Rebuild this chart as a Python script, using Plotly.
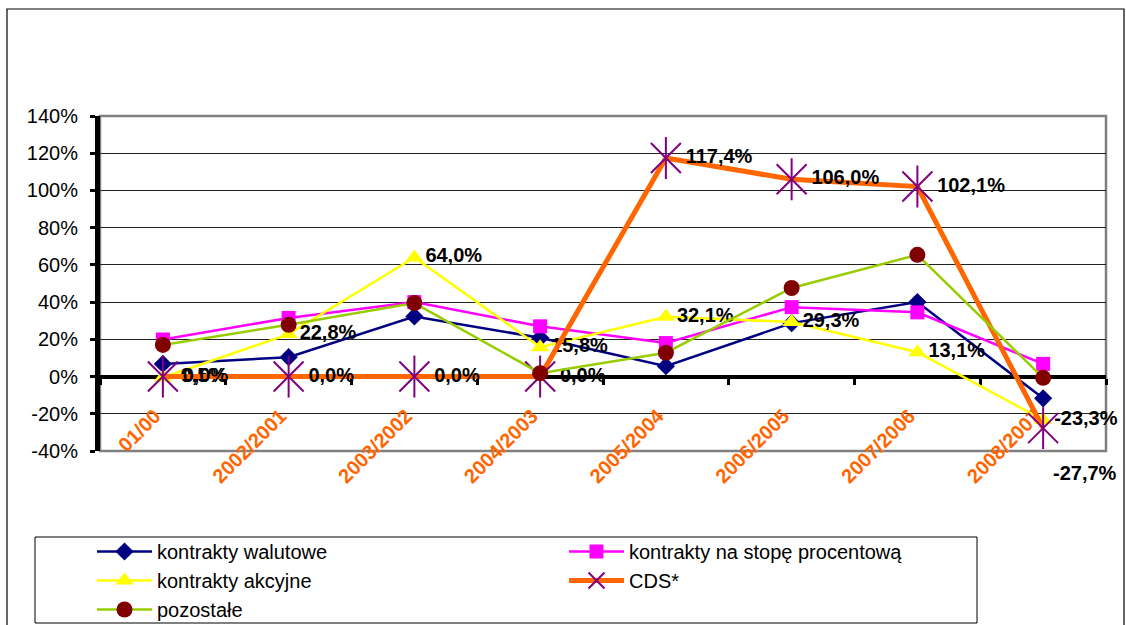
import plotly.graph_objects as go

# Year-on-year change of derivative contracts, by contract type (%)
categories = ["01/00", "2002/2001", "2003/2002", "2004/2003",
              "2005/2004", "2006/2005", "2007/2006", "2008/2007"]

walutowe = [6.8, 10.4, 32.3, 20.8, 5.6, 28.7, 40.0, -11.7]
stopa_procentowa = [19.9, 31.5, 40.0, 27.0, 18.0, 37.3, 34.5, 6.8]
akcyjne = [-0.5, 22.8, 64.0, 15.8, 32.1, 29.3, 13.1, -23.3]
cds = [0.0, 0.0, 0.0, 0.0, 117.4, 106.0, 102.1, -27.7]
pozostale = [17.0, 27.8, 39.5, 1.8, 12.8, 47.6, 65.4, -0.7]

y_ticks = [-40, -20, 0, 20, 40, 60, 80, 100, 120, 140]
y_tick_labels = ["-40%", "-20%", "0%", "20%", "40%", "60%",
                 "80%", "100%", "120%", "140%"]

FONT = "Arial, Liberation Sans, sans-serif"
W, H = 1126, 625
ML, MR, MT, MB = 100, 20, 116, 174
PW, PH = W - ML - MR, H - MT - MB


def pct(v):
    return f"{v:.1f}".replace(".", ",") + "%"


def px_x(p):
    return (p - ML) / PW


def px_y(p):
    return (H - MB - p) / PH


label_font = dict(family=FONT, size=20, color="black", weight="bold")

fig = go.Figure()

fig.add_trace(go.Scatter(
    x=categories, y=walutowe, name="kontrakty walutowe",
    mode="lines+markers",
    line=dict(color="#000080", width=2.5),
    marker=dict(symbol="diamond", size=14, color="#000080"),
))

fig.add_trace(go.Scatter(
    x=categories, y=stopa_procentowa, name="kontrakty na stopę procentową",
    mode="lines+markers",
    line=dict(color="#FF00FF", width=2.5),
    marker=dict(symbol="square", size=14, color="#FF00FF"),
))

fig.add_trace(go.Scatter(
    x=categories, y=akcyjne, name="kontrakty akcyjne",
    mode="lines+markers+text",
    line=dict(color="#FFFF00", width=2.5),
    marker=dict(symbol="triangle-up", size=16, color="#FFFF00"),
    text=[pct(v) for v in akcyjne],
    textposition="middle right",
    textfont=label_font,
    cliponaxis=False,
))

# CDS: the last label sits below its point, the rest to the right
cds_text = [pct(v) for v in cds[:-1]] + [""]
fig.add_trace(go.Scatter(
    x=categories, y=cds, name="CDS*",
    mode="lines+markers+text",
    line=dict(color="#FF6600", width=5),
    marker=dict(symbol="x-thin-open", size=30, color="#800080",
                line=dict(color="#800080", width=2)),
    text=cds_text,
    textposition="middle right",
    textfont=label_font,
    cliponaxis=False,
))
fig.add_trace(go.Scatter(
    x=categories, y=cds, mode="markers", showlegend=False,
    hoverinfo="skip",
    marker=dict(symbol="line-ns-open", size=30, color="#800080",
                line=dict(color="#800080", width=2)),
    cliponaxis=False,
))

fig.add_trace(go.Scatter(
    x=categories, y=pozostale, name="pozostałe",
    mode="lines+markers",
    line=dict(color="#99CC00", width=2.5),
    marker=dict(symbol="circle", size=16, color="#800000"),
))

fig.add_annotation(
    x=categories[-1], y=cds[-1], text=pct(cds[-1]),
    showarrow=False, xanchor="left", yanchor="middle",
    xshift=8, yshift=-45, font=label_font,
)

shapes = [
    # outer chart frame
    dict(type="rect", xref="paper", yref="paper",
         x0=px_x(7), x1=px_x(1124), y0=px_y(640), y1=px_y(9),
         line=dict(color="black", width=1.2), layer="below"),
    # plot area border
    dict(type="rect", xref="paper", yref="paper",
         x0=0, x1=1, y0=0, y1=1,
         line=dict(color="#808080", width=2.5), layer="below"),
    # legend frame
    dict(type="rect", xref="paper", yref="paper",
         x0=px_x(35), x1=px_x(977), y0=px_y(623), y1=px_y(537),
         line=dict(color="black", width=1), layer="below"),
]

fig.update_layout(
    width=W, height=H,
    margin=dict(l=ML, r=MR, t=MT, b=MB, autoexpand=False),
    paper_bgcolor="white", plot_bgcolor="white",
    font=dict(family=FONT, size=19, color="black"),
    showlegend=True,
    legend=dict(
        orientation="h", x=px_x(92), y=px_y(532),
        xanchor="left", yanchor="top",
        entrywidth=402, entrywidthmode="pixels",
        itemwidth=55, bgcolor="rgba(0,0,0,0)", borderwidth=0,
        font=dict(family=FONT, size=20, color="black"),
        traceorder="normal",
    ),
    shapes=shapes,
    xaxis=dict(
        type="category", range=[-0.5, 7.5],
        anchor="free", position=40 / 180, automargin=False,
        showline=True, linecolor="black", linewidth=4,
        layer="below traces",
        showgrid=False, zeroline=False,
        ticks="outside", tickson="boundaries", ticklen=6,
        tickwidth=3, tickcolor="black",
        tickangle=-45,
        tickfont=dict(family=FONT, size=20, color="#FF6600",
                      weight="bold"),
        ticklabelstandoff=18, ticklabelshift=-8,
    ),
    yaxis=dict(
        range=[-40, 140], automargin=False,
        tickvals=y_ticks, ticktext=y_tick_labels,
        showline=True, linecolor="black", linewidth=5,
        showgrid=True, gridcolor="#222222", gridwidth=1,
        zeroline=False,
        ticks="outside", ticklen=5, tickwidth=3, tickcolor="black",
        tickfont=dict(family=FONT, size=20, color="black"),
        ticklabelstandoff=8,
    ),
)

fig.write_html("out.html")
